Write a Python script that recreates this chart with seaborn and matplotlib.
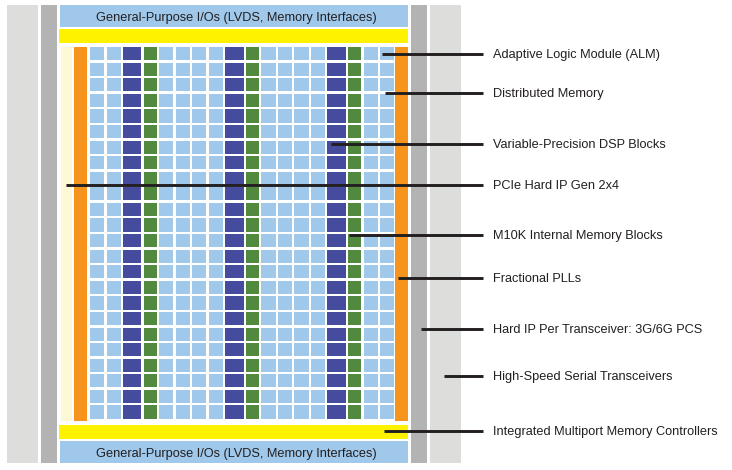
import matplotlib
matplotlib.use('Agg')

import numpy as np
import matplotlib.pyplot as plt
import seaborn as sns

# Fabric layout: column kinds left to right, number of rows
column_kinds = ['ALM', 'ALM', 'DSP', 'M10K', 'ALM', 'ALM', 'ALM', 'ALM',
                'DSP', 'M10K', 'ALM', 'ALM', 'ALM', 'ALM', 'DSP', 'M10K',
                'ALM', 'ALM']
n_rows = 24

# Callout labels and where their leader lines begin (x, y in pixels)
labels = ['Adaptive Logic Module (ALM)', 'Distributed Memory',
          'Variable-Precision DSP Blocks', 'PCIe Hard IP Gen 2x4',
          'M10K Internal Memory Blocks', 'Fractional PLLs',
          'Hard IP Per Transceiver: 3G/6G PCS', 'High-Speed Serial Transceivers',
          'Integrated Multiport Memory Controllers']
label_y = [54, 93, 144, 185, 235, 278, 329, 376, 431]
line_start = [382, 385, 331, 66, 349, 398, 421, 444, 384]

gpio_text = 'General-Purpose I/Os (LVDS, Memory Interfaces)'

colors = {
    'ALM': '#9fc8ea', 'DSP': '#454c9e', 'M10K': '#518a3e',
    'gpio': '#9fc8ea', 'yellow': '#fff200', 'cream': '#fdf9d4',
    'pll': '#f7941d', 'pcs': '#b3b3b3', 'xcvr': '#dddddb', 'line': '#231f20',
}
widths = {'ALM': 14.2, 'DSP': 18.3, 'M10K': 13.3}

sns.set_theme(style='white')
plt.rcParams['font.family'] = ['Liberation Sans', 'DejaVu Sans']

fig = plt.figure(figsize=(7.32, 4.70), dpi=100)
ax = fig.add_axes([0, 0, 1, 1])
ax.set_xlim(0, 732)
ax.set_ylim(470, 0)
ax.axis('off')


def block(x0, x1, y0, y1, color):
    ax.bar(x0, y1 - y0, width=x1 - x0, bottom=y0, align='edge',
           color=color, linewidth=0)


# transceiver and PCS strips on both sides
block(7, 38, 5, 463, colors['xcvr'])
block(41, 57, 5, 463, colors['pcs'])
block(411, 427, 5, 463, colors['pcs'])
block(430, 461, 5, 463, colors['xcvr'])

# I/O banks and memory controllers
block(60, 408, 5, 27, colors['gpio'])
block(60, 408, 441, 463, colors['gpio'])
block(59, 408, 29, 43, colors['yellow'])
block(59, 408, 425, 439, colors['yellow'])
ax.text(236, 16, gpio_text, ha='center', va='center_baseline', fontsize=9.2, color='#231f20')
ax.text(236, 452, gpio_text, ha='center', va='center_baseline', fontsize=9.2, color='#231f20')

# PCIe hard IP and PLL columns
block(61, 72, 47, 421, colors['cream'])
block(74, 87, 47, 421, colors['pll'])
block(395, 408, 47, 421, colors['pll'])

# core fabric grid
pitch = (421 - 47) / n_rows
cell_h = pitch - 2.4
row_y = 47 + np.arange(n_rows) * pitch
x = 90.0
for kind in column_kinds:
    w = widths[kind]
    ax.bar(np.full(n_rows, x), np.full(n_rows, cell_h), width=w, bottom=row_y,
           align='edge', color=colors[kind], linewidth=0)
    x += w + 2.3

# leader lines and labels
for lab, y, xs in zip(labels, label_y, line_start):
    ax.plot([xs, 483], [y, y], color=colors['line'], linewidth=2.1, solid_capstyle='butt')
    ax.text(493, y - 0.5, lab, ha='left', va='center_baseline', fontsize=9.2, color='#231f20')

fig.savefig('out.png', dpi=100)
plt.close(fig)
